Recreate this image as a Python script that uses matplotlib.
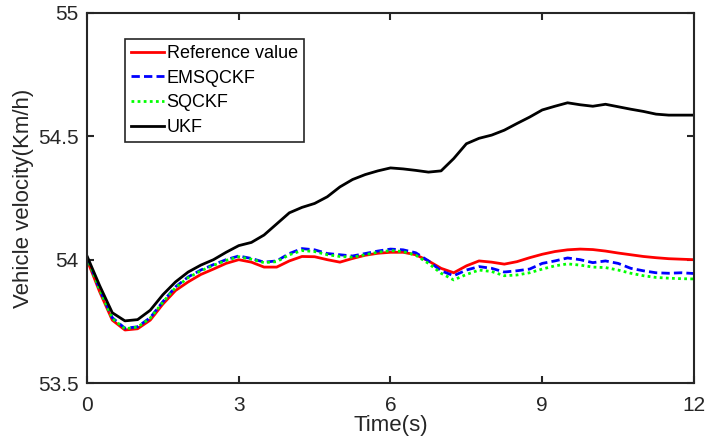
import numpy as np
import matplotlib
matplotlib.use('Agg')
import matplotlib.pyplot as plt

plt.rcParams['font.family'] = ['Liberation Sans', 'DejaVu Sans']

# time grid (s)
t = np.arange(0, 12.01, 0.25)

ref = [54.00, 53.87, 53.755, 53.715, 53.72, 53.755, 53.82, 53.875, 53.91, 53.94,
       53.962, 53.985, 54.0, 53.99, 53.97, 53.97, 53.995, 54.013, 54.012, 54.0,
       53.99, 54.005, 54.018, 54.026, 54.03, 54.03, 54.02, 53.995, 53.965, 53.947,
       53.975, 53.995, 53.99, 53.982, 53.992, 54.008, 54.022, 54.033, 54.04, 54.043,
       54.041, 54.035, 54.027, 54.02, 54.013, 54.008, 54.004, 54.002, 54.0]

emsqckf = [54.01, 53.88, 53.765, 53.722, 53.728, 53.765, 53.83, 53.89, 53.93, 53.958,
           53.98, 54.0, 54.015, 54.005, 53.99, 53.995, 54.025, 54.045, 54.04, 54.025,
           54.02, 54.015, 54.025, 54.035, 54.043, 54.04, 54.028, 53.995, 53.955, 53.935,
           53.958, 53.972, 53.965, 53.95, 53.955, 53.962, 53.985, 53.995, 54.007, 54.0,
           53.988, 53.995, 53.985, 53.965, 53.955, 53.947, 53.945, 53.947, 53.944]

sqckf = [54.01, 53.878, 53.762, 53.72, 53.727, 53.763, 53.828, 53.887, 53.927, 53.955,
         53.977, 53.997, 54.012, 54.002, 53.988, 53.992, 54.02, 54.037, 54.033, 54.02,
         54.013, 54.01, 54.02, 54.03, 54.037, 54.033, 54.018, 53.985, 53.945, 53.918,
         53.94, 53.958, 53.952, 53.935, 53.938, 53.947, 53.962, 53.975, 53.983, 53.978,
         53.97, 53.968, 53.958, 53.945, 53.935, 53.928, 53.925, 53.923, 53.922]

ukf = [54.015, 53.895, 53.785, 53.752, 53.757, 53.795, 53.858, 53.91, 53.95, 53.978,
       54.0, 54.03, 54.057, 54.07, 54.1, 54.145, 54.19, 54.212, 54.228, 54.255,
       54.295, 54.325, 54.345, 54.36, 54.372, 54.368, 54.362, 54.355, 54.36, 54.41,
       54.47, 54.492, 54.505, 54.525, 54.552, 54.578, 54.607, 54.622, 54.636, 54.628,
       54.622, 54.63, 54.62, 54.61, 54.601, 54.59, 54.586, 54.586, 54.586]

xticks = [0, 3, 6, 9, 12]
yticks = [53.5, 54, 54.5, 55]

fig = plt.figure(figsize=(7.05, 4.48), dpi=100)
ax = fig.add_axes([0.1234, 0.145, 0.861, 0.826])

txt = '#262626'
ax.plot(t, ref, color='red', lw=2.0, label='Reference value')
ax.plot(t, emsqckf, color='blue', lw=2.0, ls=(0, (3, 1.5)), label='EMSQCKF')
ax.plot(t, sqckf, color='#00ff00', lw=2.0, ls=(0, (1, 1.2)), label='SQCKF')
ax.plot(t, ukf, color='black', lw=2.0, label='UKF')

ax.set_xlim(0, 12)
ax.set_ylim(53.5, 55)
ax.set_xticks(xticks)
ax.set_yticks(yticks)
ax.set_yticklabels(['53.5', '54', '54.5', '55'])
ax.tick_params(direction='in', top=True, right=True, length=5, width=1.5,
               labelsize=15, colors=txt)
ax.tick_params(axis='x', pad=9)
ax.tick_params(axis='y', pad=6)
for s in ax.spines.values():
    s.set_linewidth(1.5)
    s.set_color(txt)

ax.set_xlabel('Time(s)', fontsize=16, color=txt, labelpad=0)
ax.set_ylabel('Vehicle velocity(Km/h)', fontsize=16, color=txt, labelpad=3)

leg = ax.legend(loc='upper left', bbox_to_anchor=(0.0626, 0.93), borderaxespad=0,
                fontsize=13, fancybox=False, framealpha=1, edgecolor=txt,
                handlelength=1.8, handletextpad=0.15, labelspacing=0.42,
                borderpad=0.35)
leg.get_frame().set_linewidth(1.2)

fig.savefig('out.png', dpi=100)
